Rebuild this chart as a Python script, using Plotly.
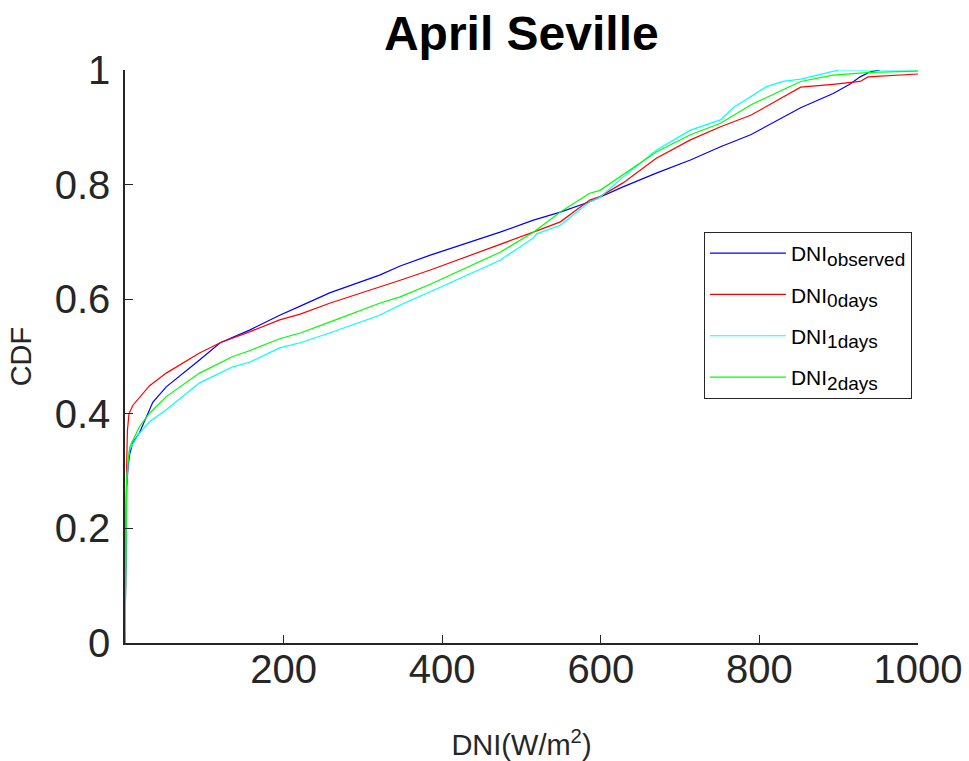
import plotly.graph_objects as go

# ---- data ----
x_obs = [0, 1, 2, 4, 6, 10, 18, 35, 52, 94, 120, 157, 195, 221, 258, 321, 347, 385,
         473, 515, 549, 586, 599, 628, 670, 713, 751, 789, 852, 870, 893, 915, 927, 940, 952]
y_obs = [0, 0.2, 0.27, 0.31, 0.33, 0.35, 0.366, 0.42, 0.447, 0.494, 0.524, 0.546, 0.572, 0.588,
         0.611, 0.642, 0.658, 0.677, 0.717, 0.738, 0.752, 0.770, 0.778, 0.796, 0.820, 0.843,
         0.866, 0.887, 0.934, 0.945, 0.959, 0.976, 0.988, 0.997, 1.0]

x_0d = [0, 1, 2, 3, 5, 10, 18, 31, 52, 94, 120, 157, 195, 221, 258, 321, 347, 385,
        473, 515, 549, 586, 599, 628, 670, 713, 751, 789, 820, 852, 893, 915, 927, 937, 1000]
y_0d = [0, 0.2, 0.3, 0.37, 0.40, 0.415, 0.428, 0.449, 0.471, 0.506, 0.524, 0.543, 0.564, 0.574,
        0.593, 0.621, 0.633, 0.651, 0.695, 0.717, 0.735, 0.773, 0.779, 0.803, 0.846, 0.878,
        0.901, 0.921, 0.945, 0.970, 0.975, 0.978, 0.980, 0.988, 0.993]

x_1d = [0, 1, 2, 4, 6, 18, 31, 52, 94, 136, 157, 195, 221, 258, 321, 347, 385, 473, 515,
        519, 549, 586, 599, 628, 670, 713, 751, 767, 789, 809, 830, 852, 873, 893, 900, 1000]
y_1d = [0, 0.2, 0.28, 0.32, 0.338, 0.366, 0.386, 0.407, 0.454, 0.482, 0.49, 0.515, 0.524, 0.541,
        0.572, 0.590, 0.613, 0.668, 0.707, 0.714, 0.729, 0.770, 0.778, 0.813, 0.86, 0.895,
        0.913, 0.934, 0.953, 0.971, 0.980, 0.984, 0.991, 0.998, 1.0, 1.0]

x_2d = [0, 1, 2, 4, 6, 18, 31, 52, 94, 136, 157, 195, 221, 258, 321, 347, 385, 473, 515,
        549, 586, 599, 628, 670, 713, 751, 789, 820, 852, 893, 915, 940, 1000]
y_2d = [0, 0.2, 0.28, 0.32, 0.342, 0.377, 0.401, 0.43, 0.471, 0.50, 0.51, 0.531, 0.541, 0.560,
        0.593, 0.604, 0.626, 0.682, 0.717, 0.752, 0.785, 0.79, 0.817, 0.857, 0.887, 0.907,
        0.939, 0.959, 0.980, 0.991, 0.993, 0.996, 0.998]

series_names = ["observed", "0days", "1days", "2days"]
series_x = [x_obs, x_0d, x_1d, x_2d]
series_y = [y_obs, y_0d, y_1d, y_2d]
series_colors = ["#0000ff", "#ff0000", "#00ffff", "#00ff00"]

x_ticks = [200, 400, 600, 800, 1000]
y_ticks = [0, 0.2, 0.4, 0.6, 0.8, 1]
y_ticklabels = ["0", "0.2", "0.4", "0.6", "0.8", "1"]

FONT = "Liberation Sans, Arial, sans-serif"
AX = "#262626"

fig = go.Figure()
for sub, xs, ys, col in zip(series_names, series_x, series_y, series_colors):
    fig.add_trace(go.Scatter(
        x=xs, y=ys, mode="lines",
        name="DNI<sub><span style='font-size:19px'>%s</span></sub>" % sub,
        legendgroup=sub,
        line=dict(color=col, width=1.2)))

fig.update_layout(
    width=969, height=761,
    margin=dict(l=125, r=51, t=70, b=118),
    paper_bgcolor="white", plot_bgcolor="white",
    font=dict(family=FONT, color=AX),
    title=dict(text="<b>April Seville</b>", x=0.538, xanchor="center",
               y=0.957, yanchor="middle",
               font=dict(family=FONT, size=48, color="black")),
    showlegend=True,
    legend=dict(x=0.730, y=0.7173, xanchor="left", yanchor="top",
                bgcolor="white", bordercolor=AX, borderwidth=1,
                font=dict(family=FONT, size=21, color="black"),
                itemwidth=76, tracegroupgap=11, traceorder="grouped"),
)
fig.update_xaxes(range=[0, 1000], tickvals=x_ticks, ticktext=[str(v) for v in x_ticks],
                 showgrid=False, zeroline=False, showline=True, linecolor=AX, linewidth=1.5,
                 ticks="inside", ticklen=8, tickcolor=AX, tickwidth=1.2, automargin=False,
                 ticklabelstandoff=-10,
                 tickfont=dict(family=FONT, size=40, color=AX),
                 title=dict(text="DNI(W/m<sup>2</sup>)", font=dict(family=FONT, size=29, color=AX),
                            standoff=45))
fig.update_yaxes(range=[0, 1], tickvals=y_ticks, ticktext=y_ticklabels,
                 showgrid=False, zeroline=False, showline=True, linecolor=AX, linewidth=1.5,
                 ticks="inside", ticklen=8, tickcolor=AX, tickwidth=1.2, automargin=False,
                 ticklabelstandoff=5,
                 tickfont=dict(family=FONT, size=40, color=AX),
                 title=dict(text="CDF", font=dict(family=FONT, size=29, color=AX), standoff=14))

fig.write_html("out.html")
